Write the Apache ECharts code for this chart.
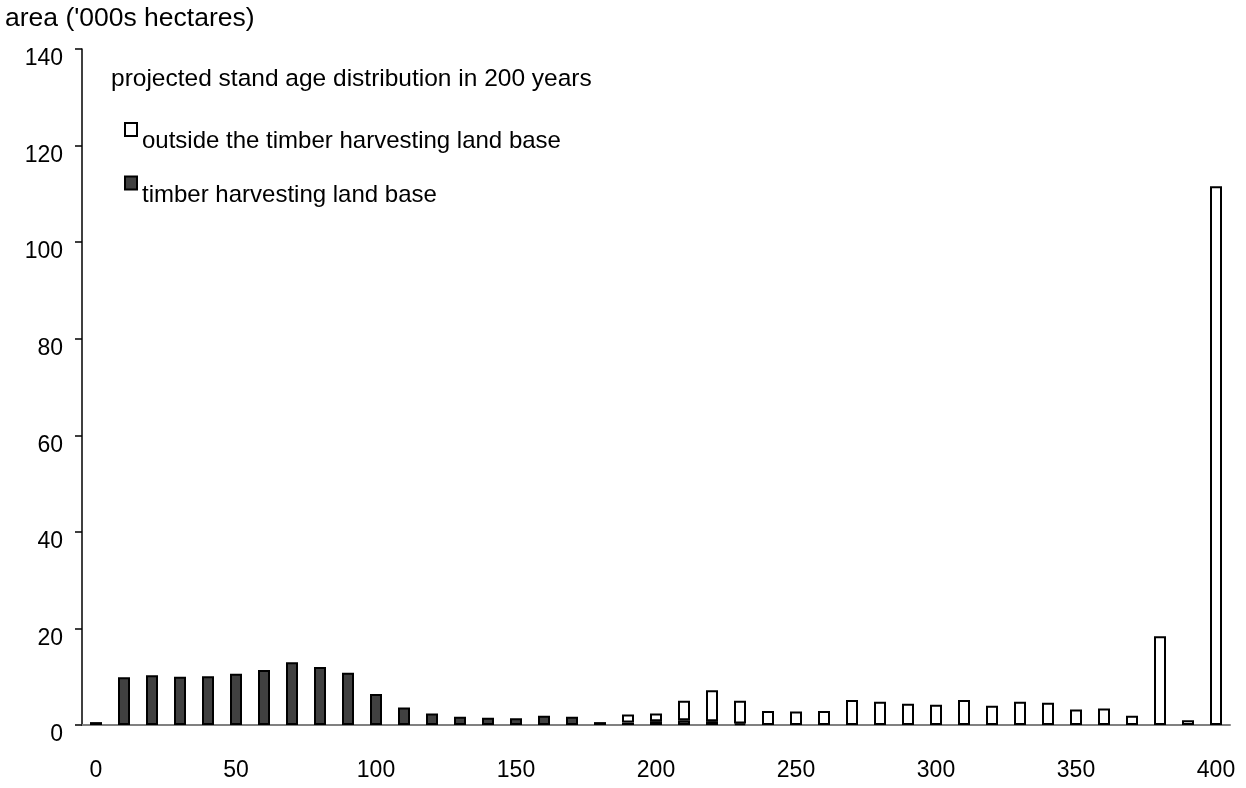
<!DOCTYPE html>
<html>
<head>
<meta charset="utf-8">
<script src="https://cdn.jsdelivr.net/npm/echarts@6/dist/echarts.min.js"></script>
<style>
  html, body { margin: 0; padding: 0; background: #fff; }
  #chart { width: 1246px; height: 788px; }
</style>
</head>
<body>
<div id="chart"></div>
<script>
// stand age classes, 0 to 400 years in steps of 10
const ageClasses = ['0', '10', '20', '30', '40', '50', '60', '70', '80', '90',
  '100', '110', '120', '130', '140', '150', '160', '170', '180', '190',
  '200', '210', '220', '230', '240', '250', '260', '270', '280', '290',
  '300', '310', '320', '330', '340', '350', '360', '370', '380', '390', '400']

// timber harvesting land base ('000s ha)
const thlbArea = [0.6, 9.9, 10.3, 10.0, 10.1, 10.6, 11.4, 13.0, 12.0, 10.8,
  6.4, 3.6, 2.4, 1.7, 1.5, 1.4, 1.9, 1.7, 0.6, 0.5,
  0.8, 1.0, 0.8, 0.3, null, null, null, null, null, null,
  null, null, null, null, null, null, null, null, null, null, null]

// outside the timber harvesting land base ('000s ha)
const outsideArea = [null, null, null, null, null, null, null, null, null, null,
  null, null, null, null, null, null, null, null, null, 1.7,
  1.6, 4.0, 6.4, 4.7, 2.9, 2.8, 2.9, 5.2, 4.8, 4.4,
  4.2, 5.2, 4.0, 4.8, 4.6, 3.2, 3.4, 1.9, 18.4, 1.0, 111.6]

const yTicks = [0, 20, 40, 60, 80, 100, 120, 140]

const FONT = '"Liberation Sans", Arial, sans-serif'

function initChart() {
  const chart = echarts.init(document.getElementById('chart'))
  const option = {
    animation: false,
    textStyle: { fontFamily: FONT, color: '#000' },
    title: {
      text: 'projected stand age distribution in 200 years',
      left: 106,
      top: 62,
      textStyle: { fontFamily: FONT, fontSize: 24.5, fontWeight: 'normal', color: '#000' }
    },
    legend: {
      orient: 'vertical',
      left: 119,
      top: 117,
      icon: 'rect',
      itemWidth: 12,
      itemHeight: 13,
      itemGap: 22,
      selectedMode: false,
      data: ['outside the timber harvesting land base', 'timber harvesting land base'],
      // label sits a little below its swatch, as in the original
      formatter: (name) => '{t|' + name + '}',
      textStyle: {
        rich: {
          t: {
            fontFamily: FONT,
            fontSize: 24,
            color: '#000',
            padding: [24, 0, 0, 0]
          }
        }
      }
    },
    grid: {
      left: 82,
      right: 16,
      top: 49,
      bottom: 63,
      outerBoundsMode: 'none',
      containLabel: false
    },
    xAxis: {
      type: 'category',
      data: ageClasses,
      boundaryGap: true,
      axisLine: { lineStyle: { color: '#808080', width: 2 } },
      axisTick: { show: false },
      axisLabel: {
        interval: 4,
        margin: 34,
        fontSize: 23,
        fontFamily: FONT,
        color: '#000'
      }
    },
    yAxis: {
      type: 'value',
      min: yTicks[0],
      max: yTicks[yTicks.length - 1],
      interval: 20,
      name: "area ('000s hectares)",
      nameLocation: 'end',
      nameGap: 30,
      nameTextStyle: {
        fontFamily: FONT,
        fontSize: 26.5,
        color: '#000',
        align: 'left',
        verticalAlign: 'middle',
        padding: [0, 0, 0, -77]
      },
      axisLine: { show: true, lineStyle: { color: '#000', width: 1.5 } },
      axisTick: { show: true, length: 7, lineStyle: { color: '#000', width: 1.5 } },
      splitLine: { show: false },
      axisLabel: {
        margin: 19,
        fontSize: 23,
        fontFamily: FONT,
        color: '#000',
        verticalAlign: 'top',
        lineHeight: 20
      }
    },
    series: [
      {
        name: 'timber harvesting land base',
        type: 'bar',
        stack: 'area',
        barWidth: 12,
        data: thlbArea,
        itemStyle: { color: '#404040', borderColor: '#000', borderWidth: 2 }
      },
      {
        name: 'outside the timber harvesting land base',
        type: 'bar',
        stack: 'area',
        barWidth: 12,
        data: outsideArea,
        itemStyle: { color: '#fff', borderColor: '#000', borderWidth: 2 }
      }
    ]
  }
  chart.setOption(option)
}

initChart()
</script>
</body>
</html>
